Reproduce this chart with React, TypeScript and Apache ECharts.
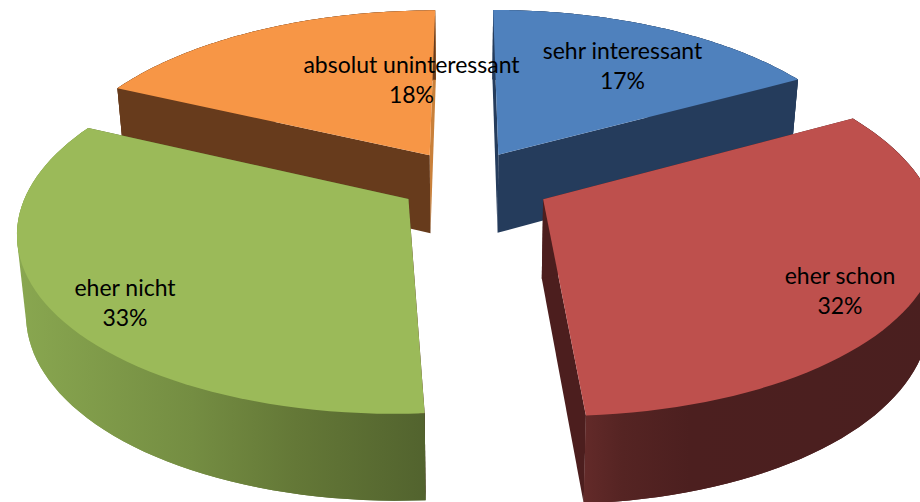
import React, { useEffect, useRef } from "react";
import * as echarts from "echarts";

const categories = ["sehr interessant", "eher schon", "eher nicht", "absolut uninteressant"];
const shares = [17, 32, 33, 18];

const topColors = ["#4F81BD", "#BE504D", "#9BBA59", "#F79646"];
const startWallColors = ["#253C5C", "#4C1E1E", "#4C1E1E", "#673B1C"];
const endWallColors = ["#253C5C", "#4C1E1E", "#55652F", "#C9803A"];
const outerStops: [number, string][][] = [
  [[0, "#253C5C"], [1, "#253C5C"]],
  [[0, "#632A29"], [0.11, "#552423"], [0.3, "#4C1F1F"], [1, "#4A1F1F"]],
  [[0, "#89A750"], [0.43, "#748D42"], [0.68, "#647837"], [1, "#52632E"]],
  [[0, "#673B1C"], [1, "#673B1C"]],
];
const labelCentres: [number, number][] = [[622.5, 65], [840, 290], [125, 302], [411.5, 79]];
const drawOrder = [3, 0, 2, 1];
// per-slice fine fit of the perspective: shift x, shift y, scale x, scale y about the apex
const sliceFit: [number, number, number, number][] = [
  [-4, 0, 1.0135, 1.014],
  [11, -2, 1.013, 1],
  [7, -5, 1, 0.985],
  [4, 0, 1.013, 1.014],
];

const CX = 465, CY = 184, A = 377, B = 175, K = 0.164, EXPLODE = 0.2;

type Pt = [number, number];

function project(u: number, v: number, lower: boolean): Pt {
  const s = 1 / (1 - K * v);
  const x = CX + A * u * s;
  const y = CY + B * v * s;
  if (!lower) return [x, y];
  return [CX + (x - CX) * 0.98, y + 78.5 + 8.7 * v];
}

function hull(points: Pt[]): Pt[] {
  const p = points.slice().sort((a, b) => a[0] - b[0] || a[1] - b[1]);
  const cross = (o: Pt, a: Pt, b: Pt) => (a[0] - o[0]) * (b[1] - o[1]) - (a[1] - o[1]) * (b[0] - o[0]);
  const build = (list: Pt[]) => {
    const out: Pt[] = [];
    for (const q of list) {
      while (out.length >= 2 && cross(out[out.length - 2], out[out.length - 1], q) <= 0) out.pop();
      out.push(q);
    }
    out.pop();
    return out;
  };
  return [...build(p), ...build(p.slice().reverse())];
}

function App() {
  const ref = useRef<HTMLDivElement>(null);
  useEffect(() => {
    if (!ref.current) return;
    const chart = echarts.init(ref.current, undefined, { renderer: "svg" });
    const total = shares.reduce((a, b) => a + b, 0);
    const starts: number[] = [];
    shares.reduce((acc, v, i) => { starts[i] = acc; return acc + v; }, 0);

    const renderItem = (params: any) => {
      const i = drawOrder[params.dataIndex];
      const a0 = (starts[i] / total) * Math.PI * 2;
      const a1 = ((starts[i] + shares[i]) / total) * Math.PI * 2;
      const mid = (a0 + a1) / 2;
      const ou = EXPLODE * Math.sin(mid);
      const ov = -EXPLODE * Math.cos(mid);
      const [dx, dy, sx, sy] = sliceFit[i];
      const pivot = project(ou, ov, false);
      const place = (u: number, v: number, lower: boolean): Pt => {
        const p = project(u, v, lower);
        return [pivot[0] + dx + (p[0] - pivot[0]) * sx, pivot[1] + dy + (p[1] - pivot[1]) * sy];
      };
      const arc = (lower: boolean) => {
        const pts: Pt[] = [];
        const n = 60;
        for (let k = 0; k <= n; k++) {
          const t = a0 + ((a1 - a0) * k) / n;
          pts.push(place(ou + Math.sin(t), ov - Math.cos(t), lower));
        }
        return pts;
      };
      const topArc = arc(false);
      const lowArc = arc(true);
      const apexTop = place(ou, ov, false);
      const apexLow = place(ou, ov, true);
      const z = params.dataIndex * 10;
      return {
        type: "group",
        children: [
          {
            type: "polygon", z2: z + 1,
            shape: { points: hull([...topArc, ...lowArc]) },
            style: {
              fill: new echarts.graphic.LinearGradient(
                0, 0, 1, 0,
                outerStops[i].map(([offset, color]) => ({ offset, color }))
              ),
            },
          },
          {
            type: "polygon", z2: z + 2,
            shape: { points: [apexTop, topArc[60], lowArc[60], apexLow] },
            style: { fill: endWallColors[i] },
          },
          {
            type: "polygon", z2: z + 3,
            shape: { points: [apexTop, topArc[0], lowArc[0], apexLow] },
            style: { fill: startWallColors[i] },
          },
          {
            type: "polygon", z2: z + 4,
            shape: { points: [...topArc, ...lowArc.slice().reverse()] },
            style: {
              fill: new echarts.graphic.LinearGradient(
                0, 0, 1, 0,
                outerStops[i].map(([offset, color]) => ({ offset, color }))
              ),
            },
          },
          {
            type: "polygon", z2: z + 5,
            shape: { points: [apexTop, ...topArc] },
            style: { fill: topColors[i] },
          },
          {
            type: "text", z2: 100,
            x: labelCentres[i][0], y: labelCentres[i][1],
            style: {
              text: `${categories[i]}\n${shares[i]}%`,
              fill: "#000",
              font: '23px Lato, "Noto Sans", sans-serif',
              lineHeight: 30,
              align: "center",
              verticalAlign: "middle",
            },
          },
        ],
      };
    };

    chart.setOption({
      animation: false,
      backgroundColor: "#fff",
      series: [
        {
          type: "custom",
          coordinateSystem: "none",
          renderItem,
          data: drawOrder.map((i) => [i, shares[i]]),
        },
      ],
    });
    return () => chart.dispose();
  }, []);
  return <div ref={ref} style={{ position: "absolute", left: 0, top: 0, width: 920, height: 502, overflow: "hidden" }} />;
}

export default App;
